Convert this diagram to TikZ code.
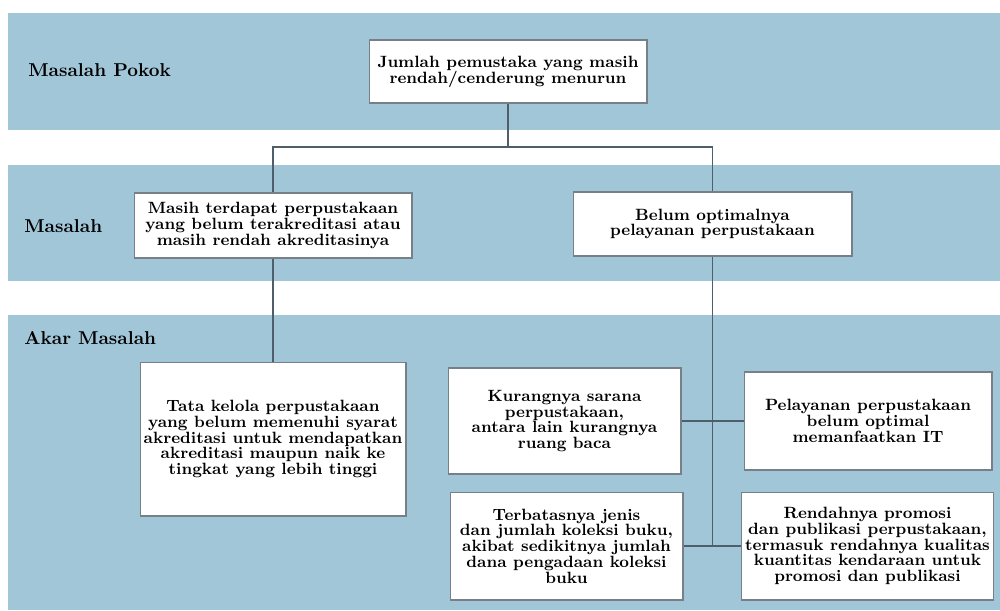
\documentclass[tikz,border=0pt]{standalone}
\usepackage{xcolor}
\definecolor{bandblue}{RGB}{161,198,216}
\definecolor{linkgray}{RGB}{78,94,106}
\definecolor{boxgray}{RGB}{118,128,134}

\begin{document}
\begin{tikzpicture}[x=0.02cm, y=-0.02cm,
        box/.style={draw=boxgray, fill=white, line width=0.6pt, align=center, inner sep=2pt,
            font=\bfseries\fontsize{9.3}{9}\selectfont},
        rowlabel/.style={anchor=west, inner sep=0pt, font=\bfseries\fontsize{10.6}{12}\selectfont},
        link/.style={draw=linkgray, line width=0.6pt}]
        \useasboundingbox (0,0) rectangle (1000,610);
        % Draw the background and the three bands
        \fill[white] (0,0) rectangle (1000,610);
        \fill[bandblue] (8,13) rectangle (1000,130);
        \fill[bandblue] (8,165) rectangle (1000,281);
        \fill[bandblue] (8,315) rectangle (1000,610);
        % Label the bands
        \node[rowlabel] (lpokok) at (28,70) {Masalah Pokok};
        \node[rowlabel] (lmasalah) at (24,226) {Masalah};
        \node[rowlabel] (lakar) at (24,338) {Akar Masalah};
        % Draw the main problem
        \node[box, minimum width=5.56cm, minimum height=1.26cm] (pokok) at (508,71.5)
            {Jumlah pemustaka yang masih\\rendah/cenderung menurun};
        % Draw the problems
        \node[box, minimum width=5.56cm, minimum height=1.3cm] (akred) at (273,225.5)
            {Masih terdapat perpustakaan\\yang belum terakreditasi atau\\masih rendah akreditasinya};
        \node[box, minimum width=5.58cm, minimum height=1.28cm] (layan) at (712.5,224)
            {Belum optimalnya\\pelayanan perpustakaan};
        % Draw the root causes
        \node[box, minimum width=5.32cm, minimum height=3.08cm] (tata) at (273,439)
            {Tata kelola perpustakaan\\yang belum memenuhi syarat\\akreditasi untuk  mendapatkan\\akreditasi maupun naik ke\\tingkat yang lebih tinggi};
        \node[box, minimum width=4.66cm, minimum height=2.12cm] (sarana) at (564.5,421)
            {Kurangnya sarana\\perpustakaan,\\antara lain kurangnya\\ruang baca};
        \node[box, minimum width=4.66cm, minimum height=2.16cm] (koleksi) at (566.5,546)
            {Terbatasnya jenis\\dan jumlah koleksi buku,\\akibat sedikitnya jumlah\\dana pengadaan koleksi\\buku};
        \node[box, minimum width=4.96cm, minimum height=1.96cm] (itnode) at (868,421)
            {Pelayanan perpustakaan\\belum optimal\\memanfaatkan IT};
        \node[box, minimum width=4.98cm, minimum height=2.16cm] (promosi) at (867.5,546)
            {Rendahnya promosi\\dan publikasi perpustakaan,\\termasuk rendahnya kualitas\\kuantitas kendaraan untuk\\promosi dan publikasi};
        % Draw the connectors
        \coordinate (split) at (508,147);
        \coordinate (rootend) at (712.5,546);
        \draw[link] (pokok.south) -- (split);
        \draw[link] (akred.north) -- (akred.north |- split) -- (layan.north |- split) -- (layan.north);
        \draw[link] (akred.south) -- (tata.north);
        \draw[link] (layan.south) -- (rootend);
        \draw[link] (sarana.east) -- (itnode.west);
        \draw[link] (koleksi.east) -- (promosi.west);
    \end{tikzpicture}
\end{document}
